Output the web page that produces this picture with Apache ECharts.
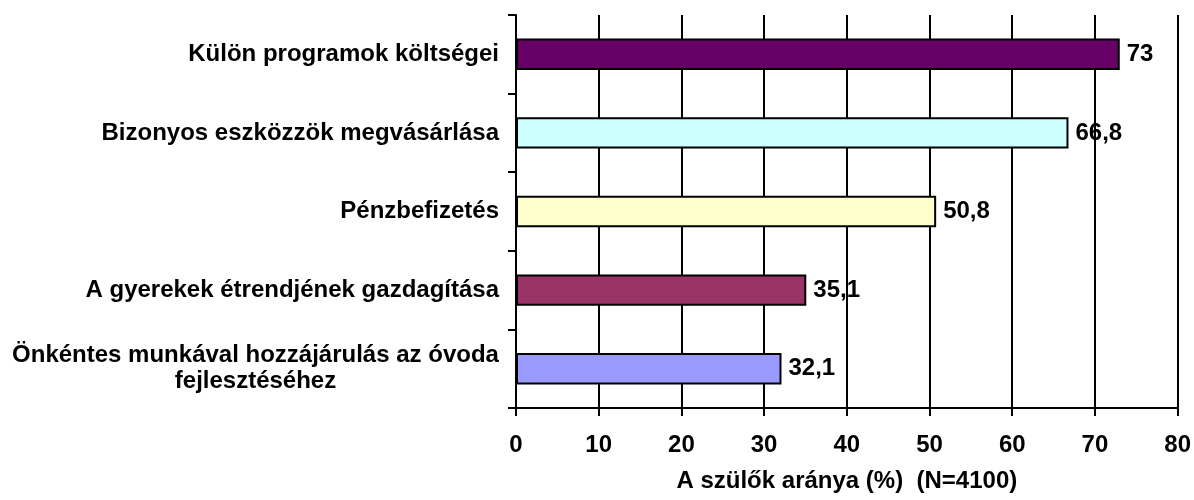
<!DOCTYPE html>
<html>
<head>
<meta charset="utf-8">
<script src="https://cdn.jsdelivr.net/npm/echarts@6/dist/echarts.min.js"></script>
<style>
html,body{margin:0;padding:0;background:#fff;}
#chart{width:1194px;height:500px;}
</style>
</head>
<body>
<div id="chart"></div>
<script>
const categories = [
  'Külön programok költségei',
  'Bizonyos eszközzök megvásárlása',
  'Pénzbefizetés',
  'A gyerekek étrendjének gazdagítása',
  'Önkéntes munkával hozzájárulás az óvoda\nfejlesztéséhez'
];
const values = [73, 66.8, 50.8, 35.1, 32.1];
const barColors = ['#660066', '#CCFFFF', '#FFFFCC', '#993366', '#9999FF'];
const xAxisTitle = 'A szülők aránya (%)  (N=4100)';

const FONT = "'Liberation Sans', Arial, sans-serif";
const FS = 24;

function measure(t) {
  const c = document.createElement('canvas').getContext('2d');
  c.font = 'bold ' + FS + 'px ' + FONT;
  return Math.ceil(c.measureText(t).width);
}

const chart = echarts.init(document.getElementById('chart'), null, {renderer: 'canvas'});
chart.setOption({
  animation: false,
  backgroundColor: '#fff',
  grid: {left: 516, right: 14, top: 15, bottom: 92, containLabel: false},
  xAxis: {
    type: 'value', min: 0, max: 80, interval: 10,
    name: xAxisTitle, nameLocation: 'middle', nameGap: 61,
    nameTextStyle: {color: '#000', fontFamily: FONT, fontWeight: 'bold', fontSize: FS},
    axisLine: {show: true, lineStyle: {color: '#000', width: 2}},
    axisTick: {show: true, length: 8, lineStyle: {color: '#000', width: 2}},
    axisLabel: {color: '#000', fontFamily: FONT, fontWeight: 'bold', fontSize: FS, margin: 25},
    splitLine: {show: true, lineStyle: {color: '#000', width: 2}}
  },
  yAxis: {
    type: 'category', inverse: true, data: categories,
    axisLine: {show: true, lineStyle: {color: '#000', width: 2}},
    axisTick: {show: true, length: 8, lineStyle: {color: '#000', width: 2}},
    axisLabel: {
      color: '#000', fontFamily: FONT, fontWeight: 'bold', fontSize: FS, margin: 17,
      lineHeight: 26, align: 'right',
      formatter: function (v) {
        if (v.indexOf('\n') < 0) return v;
        return v.split('\n').map(l => '{c|' + l + '}').join('\n');
      },
      rich: {
        c: {width: measure(categories[4].split('\n')[0]), align: 'center',
            color: '#000', fontFamily: FONT, fontWeight: 'bold', fontSize: FS, lineHeight: 26}
      }
    },
    splitLine: {show: false}
  },
  series: [{
    type: 'bar',
    barWidth: '40%',
    data: values.map((v, i) => ({value: v, itemStyle: {color: barColors[i]}})),
    itemStyle: {borderColor: '#000', borderWidth: 2},
    label: {
      show: true, position: 'right', distance: 7,
      color: '#000', fontFamily: FONT, fontWeight: 'bold', fontSize: FS,
      formatter: p => String(p.value).replace('.', ',')
    }
  }]
});
</script>
</body>
</html>
